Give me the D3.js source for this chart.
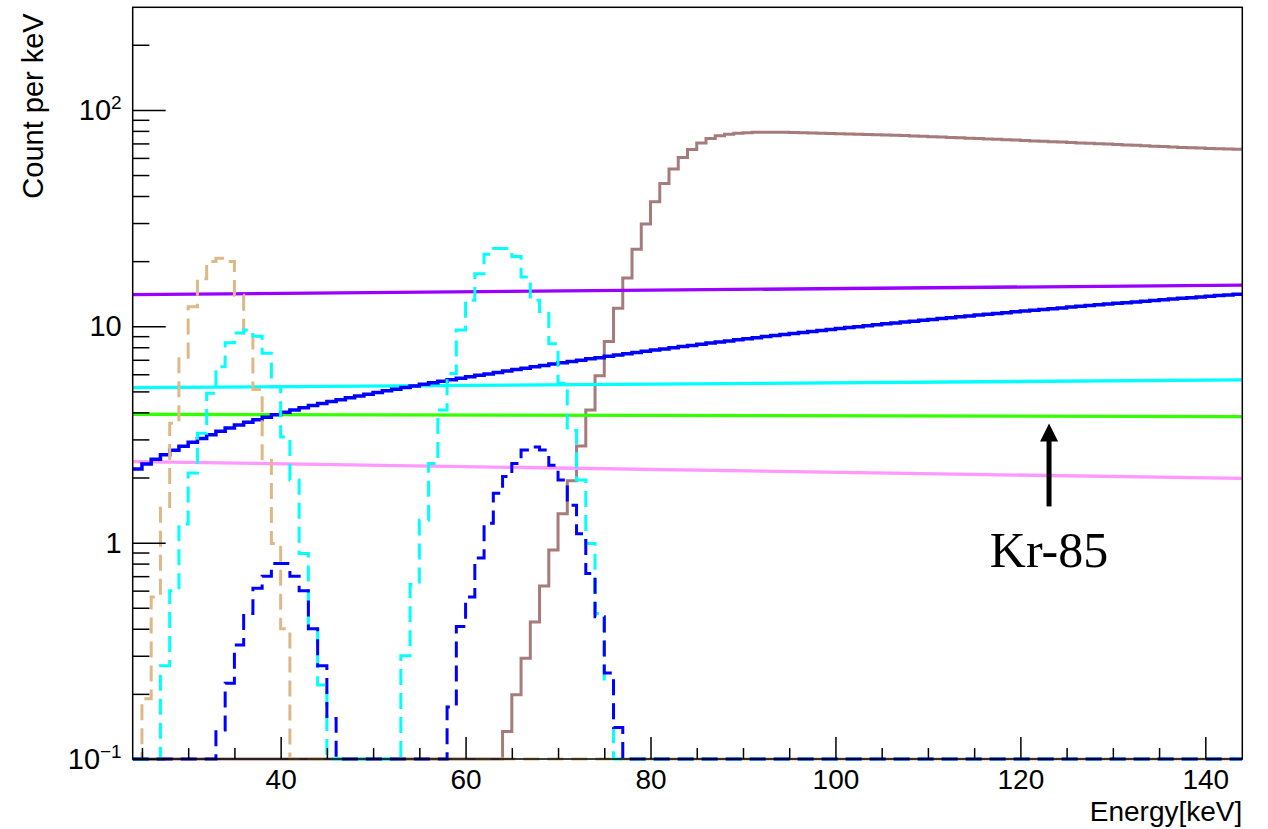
<!DOCTYPE html>
<html>
<head>
<meta charset="utf-8">
<script src="https://cdn.jsdelivr.net/npm/d3@7"></script>
<style>
  body { margin: 0; background: #fff; }
</style>
</head>
<body>
<div class="graph"></div>
<script>
// 1 keV bins from 24 to 144 keV
const xRange = [24, 144];
const yRange = [0.1, 298];

const xMajorTicks = [40, 60, 80, 100, 120, 140];
const yMajorTicks = [0.1, 1, 10, 100];

// solid step histogram (blue), bins 24..143
const blueSolid = [
  2.19, 2.31, 2.43, 2.55, 2.67, 2.79, 2.91, 3.03, 3.15, 3.27,
  3.39, 3.50, 3.60, 3.70, 3.80, 3.90, 4.00, 4.10, 4.20, 4.30,
  4.40, 4.49, 4.58, 4.67, 4.76, 4.85, 4.94, 5.03, 5.12, 5.21,
  5.30, 5.39, 5.48, 5.57, 5.66, 5.75, 5.84, 5.93, 6.02, 6.12,
  6.21, 6.31, 6.40, 6.50, 6.59, 6.69, 6.78, 6.88, 6.97, 7.07,
  7.16, 7.26, 7.36, 7.46, 7.56, 7.66, 7.76, 7.86, 7.96, 8.06,
  8.16, 8.26, 8.36, 8.46, 8.56, 8.66, 8.76, 8.86, 8.96, 9.06,
  9.16, 9.26, 9.36, 9.46, 9.56, 9.66, 9.76, 9.86, 9.96, 10.06,
  10.16, 10.26, 10.36, 10.46, 10.56, 10.66, 10.76, 10.86, 10.96, 11.06,
  11.16, 11.26, 11.36, 11.46, 11.56, 11.66, 11.76, 11.86, 11.96, 12.06,
  12.16, 12.26, 12.36, 12.46, 12.56, 12.66, 12.76, 12.86, 12.96, 13.06,
  13.16, 13.26, 13.36, 13.46, 13.56, 13.66, 13.76, 13.86, 13.96, 14.06
];

// brown step histogram, bins 64..143 (zero below)
const brownStart = 64;
const brownVals = [
  0.134, 0.198, 0.292, 0.43, 0.63, 0.925, 1.36, 1.93, 2.8, 4.1,
  5.9, 8.5, 12.1, 16.7, 22.7, 29.7, 37.6, 45.7, 53.3, 60.3,
  65.7, 70.4, 73.8, 75.9, 77.2, 78.0, 78.5, 78.8, 78.9, 78.9,
  78.8, 78.6, 78.4, 78.2, 78.0, 77.8, 77.6, 77.4, 77.2, 77.0,
  76.8, 76.6, 76.4, 76.1, 75.8, 75.5, 75.2, 74.9, 74.6, 74.3,
  74.0, 73.7, 73.4, 73.1, 72.8, 72.5, 72.2, 71.9, 71.6, 71.3,
  71.0, 70.7, 70.4, 70.1, 69.8, 69.5, 69.2, 68.9, 68.6, 68.3,
  68.0, 67.7, 67.4, 67.1, 66.8, 66.6, 66.4, 66.2, 66.0, 65.8
];

// dashed peaks: [first bin, values...]
const tanPeak = [25, [0.19, 0.56, 1.47, 3.56, 7.2, 12.3, 16.6, 19.9, 20.6, 19.9, 13.9, 9.3, 5.1, 2.4, 0.99, 0.40]];
const cyanPeakA = [27, [0.27, 0.60, 1.22, 2.1, 3.2, 4.9, 6.5, 8.4, 9.3, 9.6, 9.0, 7.5, 5.25, 3.08, 1.95, 0.89, 0.40, 0.22]];
const cyanPeakB = [53, [0.30, 0.64, 1.27, 2.32, 4.1, 6.05, 9.6, 13.2, 17.5, 21.5, 22.9, 22.9, 21.0, 16.9, 13.2, 11.7, 8.3, 5.45, 3.3, 1.95, 0.99, 0.47, 0.23]];
const bluePeakA = [33, [0.136, 0.224, 0.336, 0.47, 0.615, 0.70, 0.80, 0.80, 0.70, 0.60, 0.40, 0.27, 0.154]];
const bluePeakB = [58, [0.174, 0.41, 0.56, 0.85, 1.23, 1.69, 2.02, 2.32, 2.68, 2.77, 2.68, 2.28, 1.95, 1.49, 1.10, 0.72, 0.455, 0.25, 0.14]];

// nearly flat components: [energy, count] at both ends
const violetLine = [[24, 14.0], [144, 15.5]];
const cyanLine = [[24, 5.2], [144, 5.65]];
const greenLine = [[24, 3.92], [144, 3.82]];
const pinkLine = [[24, 2.37], [144, 1.98]];

// Kr-85 annotation
const krLabel = { text: "Kr-85", e: 123.1, tip: 3.55, tail: 1.47, at: 0.775 };

const width = 1268, height = 829;
const margin = { left: 132.7, top: 7.3, right: 25.7, bottom: 70 };
const sans = "Liberation Sans, Arial, Helvetica, sans-serif";

const svg = d3.select(".graph").append("svg")
  .attr("width", width)
  .attr("height", height)
  .attr("font-family", sans);

const x = d3.scaleLinear().domain(xRange).range([margin.left, width - margin.right]);
const y = d3.scaleLog().domain(yRange).range([height - margin.bottom, margin.top]);

svg.append("clipPath").attr("id", "plot")
  .append("rect")
  .attr("x", margin.left).attr("y", margin.top - 2)
  .attr("width", width - margin.left - margin.right)
  .attr("height", height - margin.top - margin.bottom + 4);

const nBins = xRange[1] - xRange[0];

// turn sparse peaks into a full array of bins
function fullBins(parts) {
  const arr = new Array(nBins).fill(0);
  parts.forEach(p => {
    p[1].forEach((v, i) => { arr[p[0] - xRange[0] + i] = v; });
  });
  return arr;
}

function stepPoints(vals) {
  const pts = vals.map((v, i) => [xRange[0] + i, v]);
  pts.push([xRange[1], vals[vals.length - 1]]);
  return pts;
}

const stepLine = d3.line()
  .x(d => x(d[0]))
  .y(d => y(Math.max(d[1], yRange[0])))
  .curve(d3.curveStepAfter);

const straight = d3.line()
  .x(d => x(d[0]))
  .y(d => y(d[1]));

const plot = svg.append("g").attr("clip-path", "url(#plot)");

// brown drawn first (below the frame)
plot.append("path")
  .attr("d", stepLine(stepPoints(fullBins([[brownStart, brownVals]]))))
  .attr("fill", "none")
  .attr("stroke", "#a67b7b")
  .attr("stroke-width", 3);

// frame and axes
const frame = svg.append("g");
frame.append("rect")
  .attr("x", margin.left).attr("y", margin.top)
  .attr("width", width - margin.left - margin.right)
  .attr("height", height - margin.top - margin.bottom)
  .attr("fill", "none").attr("stroke", "#000").attr("stroke-width", 1.5);

const xMinor = d3.range(25, 145, 5).filter(v => !xMajorTicks.includes(v));
const bottomY = height - margin.bottom;

const xAxisMajor = frame.append("g")
  .attr("transform", `translate(0,${bottomY})`)
  .call(d3.axisBottom(x).tickValues(xMajorTicks).tickSizeInner(-22).tickSizeOuter(0).tickPadding(10).tickFormat(d3.format("d")));
const xAxisMinor = frame.append("g")
  .attr("transform", `translate(0,${bottomY})`)
  .call(d3.axisBottom(x).tickValues(xMinor).tickSizeInner(-11).tickSizeOuter(0).tickFormat(""));

const yMinor = [];
[0.1, 1, 10, 100].forEach(d => {
  for (let k = 2; k <= 9; k++) if (d * k <= yRange[1]) yMinor.push(d * k);
});

const yAxisMajor = frame.append("g")
  .attr("transform", `translate(${margin.left},0)`)
  .call(d3.axisLeft(y).tickValues(yMajorTicks).tickSizeInner(-33).tickSizeOuter(0).tickFormat(""));
const yAxisMinor = frame.append("g")
  .attr("transform", `translate(${margin.left},0)`)
  .call(d3.axisLeft(y).tickValues(yMinor).tickSizeInner(-16.7).tickSizeOuter(0).tickFormat(""));

[xAxisMajor, xAxisMinor, yAxisMajor, yAxisMinor].forEach(g => {
  g.attr("font-family", sans);
  g.select(".domain").remove();
  g.selectAll(".tick line").attr("stroke", "#000").attr("stroke-width", 1.5);
});

xAxisMajor.selectAll(".tick text")
  .attr("font-size", 28)
  .attr("fill", "#000");

// y tick labels, ROOT style exponents
const yLabels = frame.append("g");
yMajorTicks.forEach(v => {
  const t = yLabels.append("text")
    .attr("x", margin.left - 11)
    .attr("y", y(v) + 10)
    .attr("text-anchor", "end")
    .attr("font-size", 29)
    .attr("fill", "#000");
  if (v === 0.1) {
    t.append("tspan").text("10");
    t.append("tspan").attr("font-size", 19).attr("dy", -11).text("\u22121");
  } else if (v === 100) {
    t.append("tspan").text("10");
    t.append("tspan").attr("font-size", 19).attr("dy", -11).text("2");
  } else {
    t.text(d3.format("d")(v));
  }
});

// flat components
const flat = [
  [violetLine, "#9a00ff"],
  [cyanLine, "#00ffff"],
  [greenLine, "#33ff00"],
  [pinkLine, "#ff99ff"]
];
flat.forEach(([pts, col]) => {
  plot.append("path")
    .attr("d", straight(pts))
    .attr("fill", "none")
    .attr("stroke", col)
    .attr("stroke-width", 3.3);
});

plot.append("path")
  .attr("d", stepLine(stepPoints(blueSolid)))
  .attr("fill", "none")
  .attr("stroke", "#0000ff")
  .attr("stroke-width", 3.5);

// dashed histograms
const dashed = [
  [fullBins([tanPeak]), "#deb887"],
  [fullBins([cyanPeakA, cyanPeakB]), "#00ffff"],
  [fullBins([bluePeakA, bluePeakB]), "#0000ff"]
];
dashed.forEach(([vals, col]) => {
  plot.append("path")
    .attr("d", stepLine(stepPoints(vals)))
    .attr("fill", "none")
    .attr("stroke", col)
    .attr("stroke-width", 3)
    .attr("stroke-dasharray", "16,8");
});

// axis titles
svg.append("text")
  .attr("x", width - margin.right)
  .attr("y", 821)
  .attr("text-anchor", "end")
  .attr("font-size", 28)
  .text("Energy[keV]");

svg.append("text")
  .attr("transform", `translate(43,${margin.top + 6}) rotate(-90)`)
  .attr("text-anchor", "end")
  .attr("font-size", 29)
  .text("Count per keV");

// arrow + label
const ax = x(krLabel.e);
svg.append("line")
  .attr("x1", ax).attr("x2", ax)
  .attr("y1", y(krLabel.tail)).attr("y2", y(krLabel.tip) + 14)
  .attr("stroke", "#000").attr("stroke-width", 5);
svg.append("path")
  .attr("d", `M${ax},${y(krLabel.tip)} L${ax - 9},${y(krLabel.tip) + 18} L${ax + 9},${y(krLabel.tip) + 18} Z`)
  .attr("fill", "#000");
svg.append("text")
  .attr("x", ax)
  .attr("y", y(krLabel.at))
  .attr("text-anchor", "middle")
  .attr("font-family", "Liberation Serif, Times New Roman, serif")
  .attr("font-size", 50)
  .text(krLabel.text);
</script>
</body>
</html>
